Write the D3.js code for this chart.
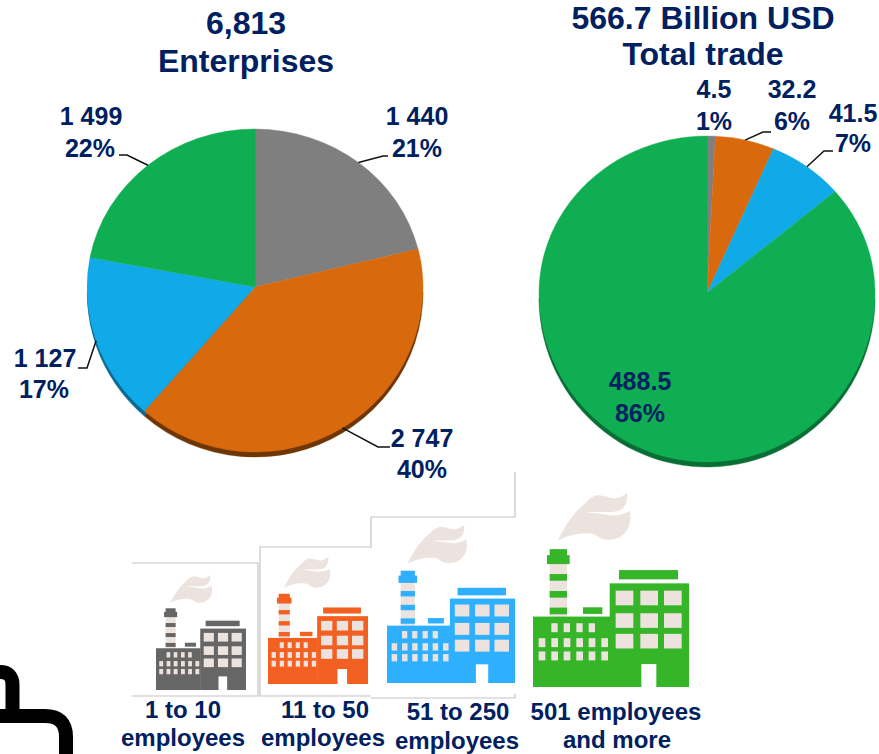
<!DOCTYPE html>
<html>
<head>
<meta charset="utf-8">
<script src="https://cdn.jsdelivr.net/npm/d3@7"></script>
<style>
    html, body { margin: 0; padding: 0; background: #fff; }
    text { font-family: "Liberation Sans", Arial, sans-serif; font-weight: bold; fill: #002060; }
</style>
</head>
<body>
<div id="chart"></div>
<script>
// data
let enterpriseValues = [1440, 2747, 1127, 1499];
let enterpriseLabels = ["1 440", "2 747", "1 127", "1 499"];
let enterpriseShares = ["21%", "40%", "17%", "22%"];
let tradeValues = [4.5, 32.2, 41.5, 488.5];
let tradeLabels = ["4.5", "32.2", "41.5", "488.5"];
let tradeShares = ["1%", "6%", "7%", "86%"];
let enterpriseTitle = ["6,813", "Enterprises"];
let tradeTitle = ["566.7 Billion USD", "Total trade"];
let sizeLabels = [["1 to 10", "employees"], ["11 to 50", "employees"], ["51 to 250", "employees"], ["501 employees", "and more"]];

let w = 879;
let h = 754;

let svg = d3.select("#chart")
    .append("svg")
    .attr("width", w)
    .attr("height", h)
    .style("display", "block");

let defs = svg.append("defs");
// clips for the top and bottom half of a pie, the apex is not at the middle of the ellipse
defs.append("clipPath").attr("id", "upper").append("rect")
    .attr("x", -300).attr("y", -300).attr("width", 600).attr("height", 300);
defs.append("clipPath").attr("id", "lower").append("rect")
    .attr("x", -300).attr("y", 0).attr("width", 600).attr("height", 300);

// draw the slices once for the top half and once for the bottom half
function drawSlices(arcs, arc, cx, cy, sy, clip, colors) {
    let outer = svg.append("g")
        .attr("transform", "translate(" + cx + "," + cy + ")")
        .attr("clip-path", "url(#" + clip + ")");
    outer.append("g")
        .attr("transform", "scale(1," + sy + ")")
        .selectAll("path").data(arcs).enter().append("path")
        .attr("d", arc)
        .attr("fill", function (d, i) { return colors[i]; })
        .attr("stroke", function (d, i) { return colors[i]; })
        .attr("stroke-width", 0.4);
}

function drawPie(opt) {
    let pie = d3.pie().sort(null).value(function (d) { return d; });
    let arcs = pie(opt.values);
    let arc = d3.arc().innerRadius(0).outerRadius(opt.r);

    // darker rim below
    drawSlices(arcs, arc, opt.cx, opt.cy + 5, opt.ryBottom / opt.r, "lower", opt.dark);
    drawSlices(arcs, arc, opt.cx, opt.cy, opt.ryTop / opt.r, "upper", opt.colors);
    drawSlices(arcs, arc, opt.cx, opt.cy, opt.ryBottom / opt.r, "lower", opt.colors);

    // leader lines start on the rim at the middle of the slice
    opt.leaders.forEach(function (l) {
        let a = arcs[l.i];
        let mid = (a.startAngle + a.endAngle) / 2;
        let c = Math.cos(mid);
        let x0 = opt.cx + opt.r * Math.sin(mid);
        let y0 = opt.cy - (c > 0 ? opt.ryTop : opt.ryBottom) * c;
        svg.append("path")
            .attr("d", d3.line()([[x0, y0], l.elbow, l.end]))
            .attr("fill", "none")
            .attr("stroke", "#111")
            .attr("stroke-width", 1.5);
    });

    opt.spots.forEach(function (s, i) {
        let t = svg.append("text")
            .attr("text-anchor", "middle")
            .attr("font-size", 25);
        t.append("tspan").attr("x", s[0]).attr("y", s[1]).text(opt.labels[i]);
        t.append("tspan").attr("x", s[2]).attr("y", s[3]).text(opt.shares[i]);
    });
}

drawPie({
    values: enterpriseValues, labels: enterpriseLabels, shares: enterpriseShares,
    cx: 255, cy: 287, r: 168, ryTop: 158, ryBottom: 165,
    colors: ["#7f7f7f", "#d9690d", "#11aae8", "#0fae52"],
    dark: ["#555", "#6e3505", "#0a6a94", "#0a6e34"],
    spots: [[417, 125, 417, 157], [422, 447, 422, 478], [45, 367, 44, 398], [91, 125, 90, 157]],
    leaders: [
        { i: 0, elbow: [383, 156], end: [388, 156] },
        { i: 1, elbow: [378, 447], end: [390, 447] },
        { i: 2, elbow: [87, 368], end: [78, 368] },
        { i: 3, elbow: [127, 155], end: [119, 155] }
    ]
});

drawPie({
    values: tradeValues, labels: tradeLabels, shares: tradeShares,
    cx: 707, cy: 293, r: 168, ryTop: 157, ryBottom: 169,
    colors: ["#7f7f7f", "#d9690d", "#11aae8", "#0fae52"],
    dark: ["#555", "#6e3505", "#0a6a94", "#0a6e34"],
    spots: [[714, 98, 714, 130], [792, 98, 792, 130], [853, 122, 853, 152], [640, 390, 640, 422]],
    leaders: [
        { i: 1, elbow: [763, 132], end: [771, 132] },
        { i: 2, elbow: [824, 151], end: [833, 151] }
    ]
});

// titles
function drawTitle(lines, x, y0, y1) {
    svg.append("text").attr("x", x).attr("y", y0).attr("text-anchor", "middle").attr("font-size", 32).text(lines[0]);
    svg.append("text").attr("x", x).attr("y", y1).attr("text-anchor", "middle").attr("font-size", 32).text(lines[1]);
}
drawTitle(enterpriseTitle, 246, 34, 72);
drawTitle(tradeTitle, 703, 29, 65);

// thin grey outlines left behind the factories
let outline = d3.line();
[
    [[132, 563], [258, 563], [258, 696], [132, 696]],
    [[371, 696], [260, 696], [260, 547], [371, 547], [371, 517], [515, 517], [515, 472]],
    [[371, 698], [515, 698], [515, 694]]
].forEach(function (pts) {
    svg.append("path")
        .attr("d", outline(pts))
        .attr("fill", "none")
        .attr("stroke", "#c4c4c4")
        .attr("stroke-width", 1.2);
});

// factory icon, drawn in a 468x584 box
function drawFactory(x, y, width, height, color) {
    let light = "#ece3de";
    let g = svg.append("g")
        .attr("transform", "translate(" + x + "," + y + ") scale(" + (width / 468) + "," + (height / 584) + ")");
    function rect(x0, y0, rw, rh, fill) {
        g.append("rect").attr("x", x0).attr("y", y0).attr("width", rw).attr("height", rh).attr("fill", fill);
    }
    // smoke, two wisps with a thin gap
    g.append("path")
        .attr("d", "M75,142 C95,100 120,62 150,37 C165,22 178,10 190,7 C210,4 225,14 240,16 C255,18 270,10 282,0 " +
            "C284,15 282,25 278,32 C272,45 265,50 255,54 C225,62 190,52 150,62 C190,56 225,70 250,67 C265,65 280,60 290,54 " +
            "C294,75 292,92 285,107 C278,122 265,132 250,137 C235,142 222,142 210,139 C195,134 190,124 175,122 " +
            "C145,118 110,125 75,142 Z")
        .attr("fill", light);
    // chimney
    rect(50, 200, 52, 172, light);
    rect(50, 169, 52, 20, color);
    rect(42, 187, 68, 27, color);
    [244, 295, 345].forEach(function (sy) { rect(50, sy, 52, 20, color); });
    // bars on the roofs
    rect(150, 344, 58, 20, color);
    rect(258, 232, 177, 28, color);
    // buildings
    rect(0, 372, 232, 212, color);
    rect(230, 272, 238, 312, color);
    rect(325, 515, 45, 69, "#fff");
    // big windows
    [248, 322, 393].forEach(function (wx) {
        [294, 362, 424].forEach(function (wy) { rect(wx, wy, 53, 44, light); });
    });
    // small windows
    [55, 92, 130, 167].forEach(function (wx) { rect(wx, 392, 19, 27, light); });
    [17, 55, 92, 130, 167, 205].forEach(function (wx) {
        [437, 477].forEach(function (wy) { rect(wx, wy, 20, 27, light); });
    });
}
drawFactory(156, 575, 90, 115, "#666666");
drawFactory(268, 557, 100, 127, "#f26122");
drawFactory(387, 525, 128, 158, "#2eb0ff");
drawFactory(533, 493, 156, 194, "#36b528");

// labels under the factories
let sizeSpots = [[183, 718, 183, 746], [325, 718, 323, 746], [458, 720, 457, 749], [616, 720, 617, 748]];
sizeLabels.forEach(function (lines, i) {
    let s = sizeSpots[i];
    svg.append("text").attr("x", s[0]).attr("y", s[1]).attr("text-anchor", "middle").attr("font-size", 24).text(lines[0]);
    svg.append("text").attr("x", s[2]).attr("y", s[3]).attr("text-anchor", "middle").attr("font-size", 24).text(lines[1]);
});

// black bag shape cut off in the bottom left corner
svg.append("path")
    .attr("d", "M-5,672 H0 Q12.5,672 12.5,685 V716 M0,716 H45 Q66,716 66,737 V760")
    .attr("fill", "none")
    .attr("stroke", "#000")
    .attr("stroke-width", 14);
</script>
</body>
</html>
